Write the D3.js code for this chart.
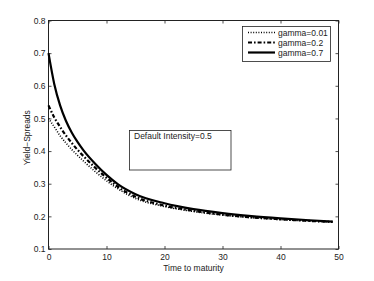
<!DOCTYPE html>
<html>
<head>
<meta charset="utf-8">
<script src="https://cdn.jsdelivr.net/npm/d3@7/dist/d3.min.js"></script>
<style>
  html, body { margin: 0; padding: 0; background: #fff; }
  svg { display: block; font-family: "Liberation Sans", Arial, Helvetica, sans-serif; }
</style>
</head>
<body>
<svg id="chart" width="374" height="281"></svg>
<script>
// ---- data ----
const maturity = [0, 1, 2, 3, 4, 5, 6, 8, 10, 12, 15, 20, 25, 30, 35, 40, 45, 49];
const gamma001 = [0.500, 0.474, 0.447, 0.425, 0.405, 0.387, 0.370, 0.338, 0.309, 0.284, 0.255, 0.230, 0.215, 0.204, 0.196, 0.190, 0.186, 0.182];
const gamma02  = [0.540, 0.503, 0.474, 0.448, 0.425, 0.404, 0.385, 0.350, 0.318, 0.290, 0.260, 0.233, 0.217, 0.205, 0.197, 0.191, 0.186, 0.183];
const gamma07  = [0.700, 0.605, 0.540, 0.493, 0.457, 0.428, 0.403, 0.362, 0.327, 0.298, 0.268, 0.240, 0.222, 0.210, 0.201, 0.194, 0.188, 0.184];
const seriesNames = ["gamma=0.01", "gamma=0.2", "gamma=0.7"];
const xTicks = [0, 10, 20, 30, 40, 50];
const yTicks = [0.1, 0.2, 0.3, 0.4, 0.5, 0.6, 0.7, 0.8];
const xTitle = "Time to maturity";
const yTitle = "Yield\u2212Spreads";
const note = "Default Intensity=0.5";

// ---- layout ----
const svg = d3.select("#chart");
const L = 48.5, R = 338.5, T = 20.5, B = 249;
const x = d3.scaleLinear().domain([0, 50]).range([L, R]);
const y = d3.scaleLinear().domain([0.1, 0.8]).range([B, T]);
const fs = "8.5px";

svg.append("rect").attr("width", 374).attr("height", 281).attr("fill", "#fff");

// axes (inward ticks, box)
const gx = svg.append("g").attr("transform", `translate(0,${B})`)
  .call(d3.axisBottom(x).tickValues(xTicks).tickSize(-3).tickPadding(5).tickFormat(d3.format("d")));
const gxt = svg.append("g").attr("transform", `translate(0,${T})`)
  .call(d3.axisTop(x).tickValues(xTicks).tickSize(-3).tickFormat(""));
const gy = svg.append("g").attr("transform", `translate(${L},0)`)
  .call(d3.axisLeft(y).tickValues(yTicks).tickSize(-3).tickPadding(3).tickFormat(d3.format(".1f")));
const gyr = svg.append("g").attr("transform", `translate(${R},0)`)
  .call(d3.axisRight(y).tickValues(yTicks).tickSize(-3).tickFormat(""));
[gx, gxt, gy, gyr].forEach(g => {
  g.select(".domain").remove();
  g.selectAll("line").attr("stroke", "#222").attr("stroke-width", 0.8);
  g.selectAll("text").attr("font-size", fs).attr("fill", "#222")
    .attr("font-family", "'Liberation Sans', Arial, sans-serif");
});
svg.append("rect").attr("x", L).attr("y", T).attr("width", R - L).attr("height", B - T)
  .attr("fill", "none").attr("stroke", "#222").attr("stroke-width", 1);

// lines
const styles = [
  { data: gamma001, dash: "1,1.6", width: 1.6 },
  { data: gamma02, dash: "4,2,1.6,2", width: 2.2 },
  { data: gamma07, dash: null, width: 2.2 }
];
const line = d3.line().x((d, i) => x(maturity[i])).y(d => y(d)).curve(d3.curveMonotoneX);
styles.forEach(s => {
  svg.append("path").datum(s.data).attr("d", line)
    .attr("fill", "none").attr("stroke", "#000").attr("stroke-width", s.width)
    .attr("stroke-dasharray", s.dash);
});

// titles
svg.append("text").attr("x", (L + R) / 2).attr("y", 271).attr("text-anchor", "middle")
  .attr("font-size", fs).attr("fill", "#222").text(xTitle);
svg.append("text").attr("transform", `translate(30,${(T + B) / 2 + 3}) rotate(-90)`)
  .attr("text-anchor", "middle").attr("font-size", fs).attr("fill", "#222").text(yTitle);

// legend
const lg = svg.append("g");
lg.append("rect").attr("x", 242.5).attr("y", 26.5).attr("width", 88).attr("height", 35)
  .attr("fill", "#fff").attr("stroke", "#222").attr("stroke-width", 0.8);
seriesNames.forEach((n, i) => {
  const yy = 32.5 + i * 10;
  lg.append("line").attr("x1", 248).attr("x2", 275).attr("y1", yy).attr("y2", yy)
    .attr("stroke", "#000").attr("stroke-width", styles[i].width)
    .attr("stroke-dasharray", styles[i].dash);
  lg.append("text").attr("x", 278).attr("y", yy + 3).attr("font-size", fs)
    .attr("fill", "#222").text(n);
});

// annotation box
svg.append("rect").attr("x", 129.5).attr("y", 130.5).attr("width", 101.5).attr("height", 39.5)
  .attr("fill", "#fff").attr("stroke", "#222").attr("stroke-width", 0.8);
svg.append("text").attr("x", 134).attr("y", 138.5).attr("font-size", fs)
  .attr("fill", "#222").text(note);
</script>
</body>
</html>
